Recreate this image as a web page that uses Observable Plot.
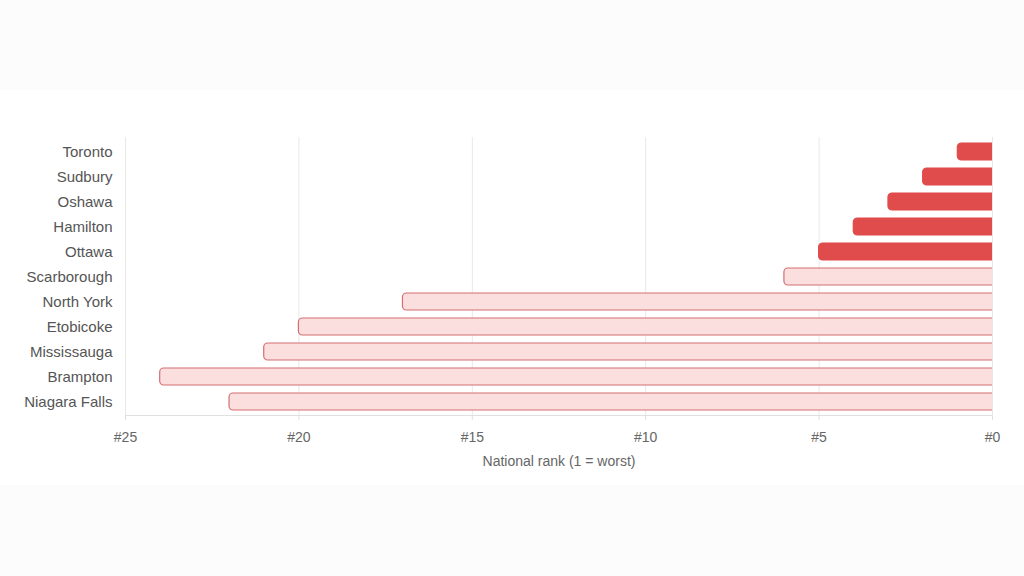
<!DOCTYPE html>
<html>
<head>
<meta charset="utf-8">
<script src="https://cdn.jsdelivr.net/npm/d3@7"></script>
<script src="https://cdn.jsdelivr.net/npm/@observablehq/plot@0.6"></script>
<style>
  html, body { margin: 0; padding: 0; background: #fcfcfc; width: 1024px; height: 576px; overflow: hidden; }
  #chart { position: absolute; left: 0; top: 90px; width: 1024px; height: 395px; background: #ffffff; }
  #chart svg { font-family: "Liberation Sans", Arial, sans-serif; }
</style>
</head>
<body>
<div id="chart"></div>
<script>
const cities = ["Toronto", "Sudbury", "Oshawa", "Hamilton", "Ottawa", "Scarborough", "North York", "Etobicoke", "Mississauga", "Brampton", "Niagara Falls"];
const ranks = [1, 2, 3, 4, 5, 6, 17, 20, 21, 24, 22];
const topCount = 5;
const xTicks = [0, 5, 10, 15, 20, 25];

const data = cities.map((c, i) => ({city: c, rank: ranks[i], top: i < topCount}));

const chart = Plot.plot({
  width: 1024,
  height: 395,
  marginLeft: 125,
  marginRight: 32,
  marginTop: 47,
  marginBottom: 70,
  style: {background: "transparent", color: "#666", fontSize: "14px", fontFamily: "'Liberation Sans', Arial, sans-serif"},
  x: {domain: [0, 25], reverse: true},
  y: {domain: cities, paddingInner: 0.32, paddingOuter: 0.16},
  marks: [
    Plot.gridX(xTicks, {stroke: "#e8e8e8", strokeOpacity: 1}),
    Plot.frame({anchor: "bottom", stroke: "#e0e0e0"}),
    Plot.barX(data, {
      x1: -0.4,
      x2: "rank",
      y: "city",
      rx: 4,
      clip: true,
      fill: d => d.top ? "#e04b4b" : "#fbdfdf",
      stroke: d => d.top ? "#e04b4b" : "#d46e72",
      strokeWidth: 1.2
    }),
    Plot.axisX(xTicks, {
      tickFormat: d => "#" + d,
      tickSize: 5,
      tickPadding: 12,
      stroke: "#e0e0e0",
      fill: "#666",
      fontSize: 14,
      label: "National rank (1 = worst)",
      labelAnchor: "center",
      labelArrow: "none",
      labelOffset: 50
    }),
    Plot.axisY({
      tickSize: 0,
      tickPadding: 13,
      fontSize: 15,
      fill: "#555",
      label: null
    })
  ]
});
document.getElementById("chart").appendChild(chart);
</script>
</body>
</html>
